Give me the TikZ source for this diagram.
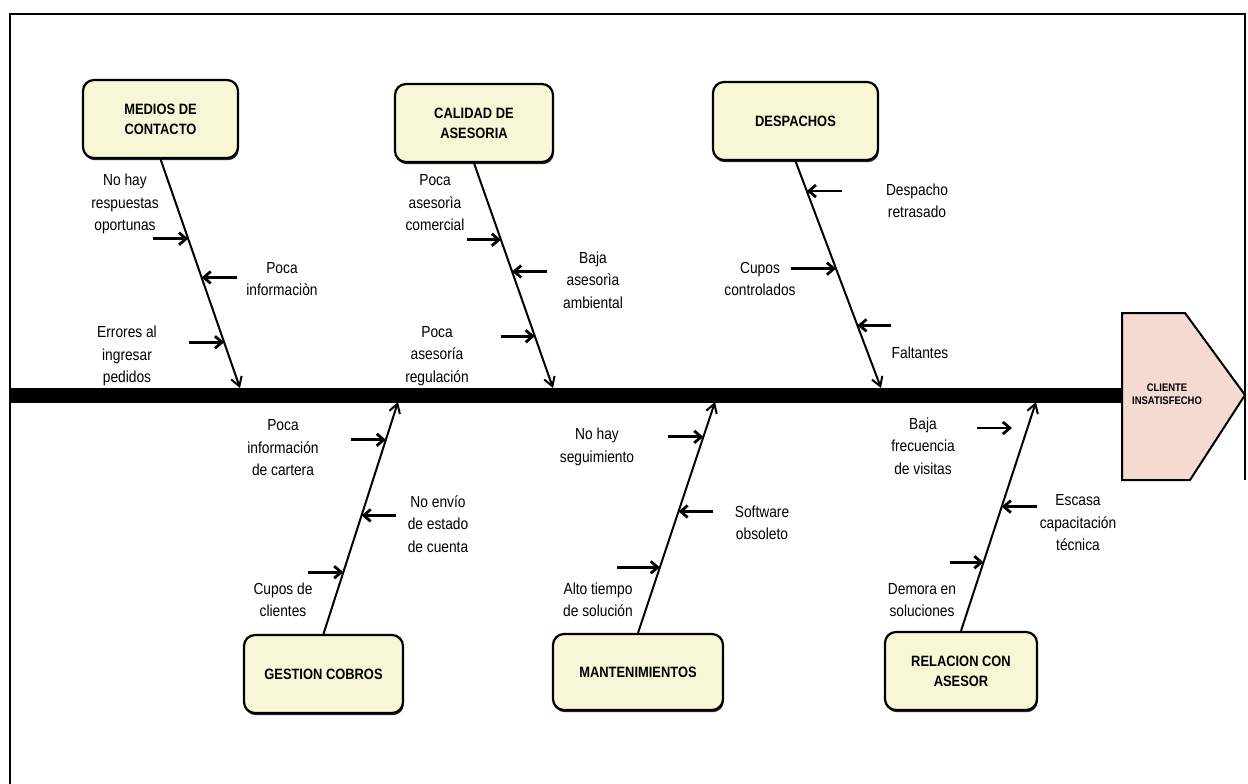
\documentclass[tikz,border=0pt]{standalone}
\usepackage{fontspec}
\setmainfont{Liberation Sans}[FakeStretch=0.86]
\usetikzlibrary{arrows.meta,calc,shadows}
\definecolor{cajaamarilla}{RGB}{247,247,216}
\definecolor{cabezarosa}{RGB}{245,218,210}
\tikzset{
  caja/.style={draw=black, line width=2.2pt, rounded corners=11pt, fill=cajaamarilla,
    minimum height=78pt, align=center, font=\fontsize{15}{20}\selectfont\bfseries,
    drop shadow={shadow xshift=0.8pt, shadow yshift=-2.2pt, fill=black, opacity=0.85}},
  espina/.style={line width=2pt, -{Straight Barb[length=9pt,width=11pt,line width=2pt]}},
  causa/.style={line width=2.8pt, -{Straight Barb[length=7pt,width=12pt]}},
  etiqueta/.style={align=center, inner sep=0pt, font=\fontsize{16}{22.5}\selectfont},
}

\begin{document}
\begin{tikzpicture}[x=1pt,y=-1pt]
\useasboundingbox (0,0) rectangle (1248,784);
% marco
\draw[line width=1.3pt] (10,784) -- (10,14) -- (1245,14) -- (1245,480);

% espina central y cabeza
\coordinate (cola) at (10,395);
\coordinate (cuello) at (1122,395);
\draw[line width=15pt] (cola) -- (cuello);
\draw[line width=2pt, fill=cabezarosa] (1122,313) -- (1185,313) -- (1245,395) -- (1190,480) -- (1122,480) -- cycle;
\node[font=\fontsize{11}{12.5}\selectfont\bfseries, align=center] (cliente) at (1167,394) {CLIENTE\\INSATISFECHO};

% categorias
\node[caja, minimum width=155pt] (medios) at (160.5,119) {MEDIOS DE\\CONTACTO};
\node[caja, minimum width=158pt] (calidad) at (474,123) {CALIDAD DE\\ASESORIA};
\node[caja, minimum width=165pt] (despachos) at (795.5,121) {DESPACHOS};
\node[caja, minimum width=159pt] (gestion) at (323.5,674) {GESTION COBROS};
\node[caja, minimum width=170pt, minimum height=76pt] (mant) at (638,672) {MANTENIMIENTOS};
\node[caja, minimum width=152pt] (relacion) at (961,671) {RELACION CON\\ASESOR};

% puntos sobre la espina
\coordinate (s1) at (240,388);
\coordinate (s2) at (553,388);
\coordinate (s3) at (881,388);
\coordinate (s4) at (398,402);
\coordinate (s5) at (715,402);
\coordinate (s6) at (1036,402);

\draw[espina] (medios.south) -- (s1);
\draw[espina] (calidad.south) -- (s2);
\draw[espina] (despachos.south) -- (s3);
\draw[espina] (gestion.north) -- (s4);
\draw[espina] (mant.north) -- (s5);
\draw[espina] (relacion.north) -- (s6);

% causas: medios de contacto
\coordinate (m1) at ($(medios.south)!0.348!(s1)$);
\coordinate (m2) at ($(medios.south)!0.517!(s1)$);
\coordinate (m3) at ($(medios.south)!0.8!(s1)$);
\draw[causa] ([xshift=-35pt]m1) -- (m1);
\draw[causa] ([xshift=35pt]m2) -- (m2);
\draw[causa] ([xshift=-35pt]m3) -- (m3);
\node[etiqueta] (tm1) at (125,204) {No hay\\respuestas\\oportunas};
\node[etiqueta] (tm2) at (282,279) {Poca\\informaciòn};
\node[etiqueta] (tm3) at (127,356) {Errores al\\ingresar\\pedidos};

% causas: calidad de asesoria
\coordinate (c1) at ($(calidad.south)!0.341!(s2)$);
\coordinate (c2) at ($(calidad.south)!0.482!(s2)$);
\coordinate (c3) at ($(calidad.south)!0.77!(s2)$);
\draw[causa] ([xshift=-34pt]c1) -- (c1);
\draw[causa] ([xshift=35pt]c2) -- (c2);
\draw[causa] ([xshift=-34pt]c3) -- (c3);
\node[etiqueta] (tc1) at (435,203) {Poca\\asesorìa\\comercial};
\node[etiqueta] (tc2) at (593,280) {Baja\\asesorìa\\ambiental};
\node[etiqueta] (tc3) at (437,356) {Poca\\asesoría\\regulación};

% causas: despachos
\coordinate (d1) at ($(despachos.south)!0.132!(s3)$);
\coordinate (d2) at ($(despachos.south)!0.474!(s3)$);
\coordinate (d3) at ($(despachos.south)!0.724!(s3)$);
\draw[causa] ([xshift=35pt]d1) -- (d1);
\draw[causa] ([xshift=-45pt]d2) -- (d2);
\draw[causa] ([xshift=34pt]d3) -- (d3);
\node[etiqueta] (td1) at (917,201) {Despacho\\retrasado};
\node[etiqueta] (td2) at (760,279) {Cupos\\controlados};
\node[etiqueta] (td3) at (920,353) {Faltantes};

% causas: gestion cobros
\coordinate (g1) at ($(gestion.north)!0.837!(s4)$);
\coordinate (g2) at ($(gestion.north)!0.511!(s4)$);
\coordinate (g3) at ($(gestion.north)!0.266!(s4)$);
\draw[causa] ([xshift=-35pt]g1) -- (g1);
\draw[causa] ([xshift=34pt]g2) -- (g2);
\draw[causa] ([xshift=-35pt]g3) -- (g3);
\node[etiqueta] (tg1) at (283,448) {Poca\\información\\de cartera};
\node[etiqueta] (tg2) at (438,524) {No envío\\de estado\\de cuenta};
\node[etiqueta] (tg3) at (283,600) {Cupos de\\clientes};

% causas: mantenimientos
\coordinate (n1) at ($(mant.north)!0.849!(s5)$);
\coordinate (n2) at ($(mant.north)!0.526!(s5)$);
\coordinate (n3) at ($(mant.north)!0.284!(s5)$);
\draw[causa] ([xshift=-35pt]n1) -- (n1);
\draw[causa] ([xshift=34pt]n2) -- (n2);
\draw[causa] ([xshift=-43pt]n3) -- (n3);
\node[etiqueta] (tn1) at (597,447) {No hay\\seguimiento};
\node[etiqueta] (tn2) at (762,523) {Software\\obsoleto};
\node[etiqueta] (tn3) at (598,600) {Alto tiempo\\de solución};

% causas: relacion con asesor
\coordinate (r1) at (1012,428);
\coordinate (r2) at ($(relacion.north)!0.543!(s6)$);
\coordinate (r3) at ($(relacion.north)!0.3!(s6)$);
\draw[causa] ([xshift=-35pt]r1) -- (r1);
\draw[causa] ([xshift=35pt]r2) -- (r2);
\draw[causa] ([xshift=-34pt]r3) -- (r3);
\node[etiqueta] (tr1) at (923,446) {Baja\\frecuencia\\de visitas};
\node[etiqueta] (tr2) at (1078,523) {Escasa\\capacitación\\técnica};
\node[etiqueta] (tr3) at (922,600) {Demora en\\soluciones};

\end{tikzpicture}
\end{document}
